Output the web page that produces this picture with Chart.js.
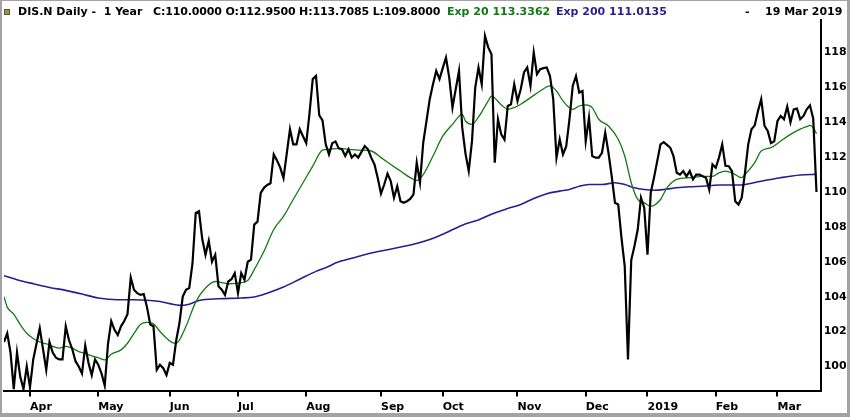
<!DOCTYPE html>
<html>
<head>
<meta charset="utf-8">
<script src="https://cdn.jsdelivr.net/npm/chart.js@4.4.1/dist/chart.umd.min.js"></script>
<style>
  html, body { margin: 0; padding: 0; background: #fff; }
  #wrap { position: relative; width: 850px; height: 417px; overflow: hidden; background: #fff; }
  #frame { position: absolute; left: 0; top: 0; width: 850px; height: 417px; box-sizing: border-box;
           border: 2px solid #a3a3a3; border-top-width: 1px; border-bottom-width: 4px; border-right-width: 3px; pointer-events: none; }
  #head { position: absolute; left: 0; top: 5px; width: 850px; height: 14px; white-space: pre;
          font: bold 11px "DejaVu Sans", sans-serif; line-height: 14px; color: #000; }
  #head span { position: absolute; top: 0; }
  #head .icon { left: 4px; top: 4px; width: 4px; height: 4px; background: #9c9a2c; border: 1px solid #555; }
</style>
</head>
<body>
<div id="wrap">
  <canvas id="chart" width="850" height="417"></canvas>
  <div id="head">
    <span class="icon"></span>
    <span style="left:18px">DIS.N Daily -  1 Year</span>
    <span style="left:153px;letter-spacing:-0.15px">C:110.0000 O:112.9500 H:113.7085 L:109.8000</span>
    <span style="left:447px;color:#127a12">Exp 20 113.3362</span>
    <span style="left:556px;color:#2b1d8f">Exp 200 111.0135</span>
    <span style="left:745px">-</span>
    <span style="left:765px">19 Mar 2019</span>
  </div>
  <div id="frame"></div>
</div>
<script>
// trading-day index of the first close (day 0 = 19 Mar 2018)
const firstDay = 1;

// daily closes
const closes = [
  101.4, 101.9, 100.8, 98.7, 100.8, 99.4, 98.7, 100.0, 98.8, 100.4,
  101.3, 102.2, 101.0, 99.8, 101.4, 100.8, 100.5, 100.4, 100.4, 102.3,
  101.5, 101.0, 100.3, 100.0, 99.6, 101.2, 100.2, 99.5, 100.4, 100.1,
  99.6, 98.9, 101.3, 102.6, 102.1, 101.8, 102.3, 102.6, 103.0, 105.1,
  104.4, 104.2, 104.1, 104.15, 103.4, 102.4, 102.3, 99.8, 100.1, 99.9,
  99.5, 100.2, 100.1, 101.5, 102.5, 104.0, 104.4, 104.5, 105.9, 108.8,
  108.9, 107.3, 106.4, 107.2, 106.0, 106.4, 104.6, 104.4, 104.1, 104.87,
  105.0, 105.35, 104.2, 105.35, 104.97, 106.0, 106.12, 108.13, 108.3, 109.95,
  110.24, 110.4, 110.5, 112.15, 111.8, 111.4, 110.8, 112.2, 113.6, 112.73,
  112.73, 113.6, 113.2, 112.8, 114.5, 116.47, 116.65, 114.4, 114.1, 112.73,
  112.15, 112.8, 112.9, 112.5, 112.45, 112.06, 112.45, 111.97, 112.15, 111.97,
  112.3, 112.63, 112.45, 111.97, 111.58, 110.8, 109.9, 110.43, 111.05, 110.62,
  109.67, 110.33, 109.47, 109.38, 109.47, 109.6, 109.86, 111.68, 110.53, 112.83,
  114.07, 115.32, 116.18, 116.94, 116.47, 117.1, 117.71, 116.56, 114.84, 115.9,
  116.94, 113.69, 112.2, 111.2, 112.92, 115.99, 117.14, 116.18, 118.95, 118.29,
  117.9, 111.68, 114.17, 113.3, 113.0, 114.93, 115.03, 116.18, 115.22, 115.89,
  116.85, 117.14, 116.08, 118.0, 116.75, 117.04, 117.1, 117.14, 116.65, 115.32,
  111.97, 113.02, 112.15, 112.63, 114.17, 116.08, 116.65, 115.7, 115.79, 112.92,
  114.26, 112.06, 111.97, 111.97, 112.25, 113.4, 112.25, 110.9, 109.38, 109.28,
  107.37, 105.74, 100.4, 106.1, 106.9, 107.85, 109.67, 109.1, 106.4, 109.95,
  110.82, 111.77, 112.73, 112.86, 112.7, 112.54, 112.06, 111.1, 111.0, 111.2,
  110.9, 111.2, 110.72, 111.0, 111.0, 110.9, 110.82, 110.14, 111.58, 111.39,
  111.97, 112.73, 111.5, 111.48, 111.2, 109.47, 109.28, 109.67, 111.1, 112.73,
  113.6, 113.82, 114.64, 115.32, 113.8, 113.5, 112.8, 112.9, 114.07, 114.36,
  114.17, 114.9, 114.0, 114.74, 114.78, 114.17, 114.36, 114.74, 114.97, 114.2,
  110.0
];

// exponential averages
const ema20Day = [1, 2, 4, 6, 8, 10, 12, 14, 16, 18, 20, 22, 24, 26, 28, 30, 32, 34, 37, 39,
  41, 43, 45, 47, 49, 51, 53, 54, 57, 60, 63, 66, 70, 73, 76, 78, 81, 84, 87, 90,
  93, 96, 99, 101, 104, 107, 110, 114, 117, 120, 123, 126, 128, 130, 133, 136, 139, 142, 143, 145,
  147, 150, 151, 154, 156, 158, 160, 163, 166, 169, 171, 173, 176, 178, 180, 182, 184, 187, 190, 192,
  194, 196, 198, 200, 203, 205, 208, 212, 216, 219, 221, 223, 225, 228, 229, 232, 234, 237, 240, 243,
  246, 248, 249, 250, 251];
const ema20Val = [104.0, 103.4, 103.0, 102.4, 101.9, 101.6, 101.4, 101.3, 101.15, 101.05,
  101.15, 101.05, 100.85, 100.75, 100.6, 100.5, 100.37, 100.7, 100.95, 101.33,
  101.9, 102.4, 102.52, 102.44, 102.0, 101.62, 101.35, 101.33, 102.3, 103.7,
  104.5, 104.87, 104.74, 104.78, 104.93, 105.55, 106.6, 107.85, 108.6, 109.57,
  110.53, 111.48, 112.4, 112.45, 112.5, 112.45, 112.4, 112.35, 111.97, 111.58,
  111.2, 110.82, 110.66, 111.0, 112.06, 113.2, 113.88, 114.45, 114.07, 113.88,
  114.3, 115.22, 115.5, 115.0, 114.74, 114.84, 115.03, 115.41, 115.79, 116.08,
  115.79, 115.22, 114.74, 114.93, 115.0, 114.84, 114.17, 113.78, 113.02, 112.06,
  110.53, 109.57, 109.38, 109.18, 109.57, 110.24, 110.72, 110.82, 110.9, 110.9,
  111.1, 111.2, 111.1, 110.82, 111.0, 111.68, 112.35, 112.54, 112.92, 113.3,
  113.6, 113.75, 113.82, 113.69, 113.34];

const ema200Day = [1, 5, 10, 15, 20, 25, 30, 36, 41, 46, 49, 52, 55, 58, 61, 67, 74, 78, 82, 87,
  92, 97, 101, 103, 108, 114, 127, 132, 137, 142, 147, 152, 156, 160, 164, 168, 172, 175, 178, 181,
  185, 189, 192, 195, 198, 201, 204, 208, 212, 216, 221, 227, 234, 240, 246, 251];
const ema200Val = [105.2, 104.97, 104.74, 104.53, 104.36, 104.15, 103.92, 103.82, 103.82, 103.78,
  103.72, 103.6, 103.5, 103.57, 103.78, 103.88, 103.92, 103.98, 104.2, 104.55,
  105.0, 105.45, 105.74, 105.93, 106.2, 106.5, 107.0, 107.27, 107.66, 108.1,
  108.4, 108.8, 109.05, 109.28, 109.63, 109.9, 110.05, 110.14, 110.33, 110.43,
  110.43, 110.53, 110.43, 110.24, 110.14, 110.1, 110.14, 110.24, 110.3, 110.33,
  110.4, 110.4, 110.62, 110.82, 110.97, 111.01];

// month ticks (first trading day of each month)
const monthDay = [9, 30, 52, 73, 94, 117, 136, 159, 180, 199, 220, 239];
const monthLabels = ["Apr", "May", "Jun", "Jul", "Aug", "Sep", "Oct", "Nov", "Dec", "2019", "Feb", "Mar"];
const priceTicks = [100, 102, 104, 106, 108, 110, 112, 114, 116, 118];

const toPoints = (days, vals) => vals.map((v, k) => ({ x: days[k], y: v }));

new Chart(document.getElementById("chart"), {
  type: "line",
  data: {
    datasets: [
      {
        label: "DIS.N",
        data: closes.map((v, k) => ({ x: firstDay + k, y: v })),
        borderColor: "#000",
        borderWidth: 2.2,
        pointRadius: 0,
        tension: 0,
      },
      {
        label: "Exp 20",
        data: toPoints(ema20Day, ema20Val),
        borderColor: "#127a12",
        borderWidth: 1.3,
        pointRadius: 0,
        cubicInterpolationMode: "monotone",
      },
      {
        label: "Exp 200",
        data: toPoints(ema200Day, ema200Val),
        borderColor: "#2b1d8f",
        borderWidth: 1.6,
        pointRadius: 0,
        cubicInterpolationMode: "monotone",
      },
    ],
  },
  options: {
    responsive: false,
    animation: false,
    layout: { padding: { top: 20, left: 4, right: 0, bottom: 0 } },
    plugins: { legend: { display: false }, tooltip: { enabled: false } },
    scales: {
      x: {
        type: "linear",
        min: 1,
        max: 252.3,
        afterBuildTicks: (scale) => { scale.ticks = monthDay.map((v) => ({ value: v })); },
        afterFit: (scale) => { scale.height = 26.5; },
        ticks: {
          autoSkip: false,
          maxRotation: 0,
          align: "start",
          padding: 4,
          color: "#000",
          font: { family: "DejaVu Sans", size: 11, weight: "bold" },
          callback: (v) => monthLabels[monthDay.indexOf(v)] ?? "",
        },
        grid: { drawOnChartArea: false, drawTicks: true, tickLength: 6, color: "#000", lineWidth: 2 },
        border: { display: true, color: "#000", width: 2 },
      },
      y: {
        position: "right",
        min: 98.62,
        max: 119.86,
        afterBuildTicks: (scale) => { scale.ticks = priceTicks.map((v) => ({ value: v })); },
        afterFit: (scale) => { scale.width = 29.3; },
        ticks: {
          padding: 3,
          color: "#000",
          font: { family: "DejaVu Sans", size: 11, weight: "bold" },
        },
        grid: { display: false, drawTicks: false },
        border: { display: true, color: "#000", width: 2 },
      },
    },
  },
});
</script>
</body>
</html>
